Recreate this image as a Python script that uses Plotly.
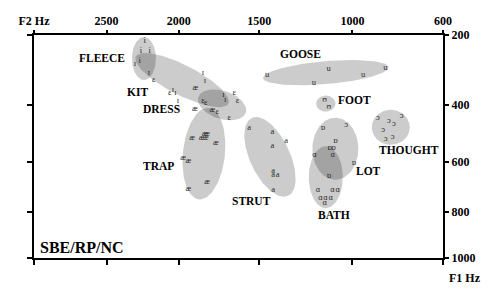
import numpy as np
import plotly.graph_objects as go

# ---------------- data (Hz) ----------------
fleece_f2 = [2230, 2255, 2195, 2265]
fleece_f1 = [215, 241, 241, 269]
kit_f2 = [2298, 2201, 1843, 1830, 2038, 2021, 2005, 1714, 1704]
kit_f1 = [278, 304, 302, 326, 354, 364, 387, 369, 385]
dress_f2 = [2167, 2060, 1843, 1825, 1649, 1629, 1752, 1679]
dress_f1 = [322, 364, 387, 396, 364, 387, 423, 445]
trap_f2 = [1891, 1895, 1783, 1913, 1852, 1833, 1816, 1825, 1762, 1971, 1937, 1816, 1937]
trap_f1 = [348, 415, 419, 514, 512, 500, 500, 512, 532, 587, 597, 677, 707]
strut_f2 = [1559, 1424, 1347, 1424, 1420, 1420, 1394, 1420]
strut_f1 = [479, 491, 524, 542, 634, 649, 651, 709]
goose_f2 = [1454, 1120, 1196, 948, 844]
goose_f1 = [309, 291, 332, 309, 289]
foot_f2 = [1140, 1118]
foot_f1 = [385, 407]
thought_f2 = [879, 829, 772, 806, 855, 843, 812, 1031]
thought_f1 = [445, 453, 437, 465, 485, 518, 510, 468]
lot_f2 = [1149, 1085, 1114, 1095, 993, 1118]
lot_f1 = [479, 523, 548, 548, 604, 653]
bath_f2 = [1193, 1099, 1175, 1100, 1073, 1161, 1135, 1109, 1140]
bath_f1 = [574, 574, 709, 709, 709, 741, 741, 741, 763]

# vowel labels (lexical sets) and their positions (Hz)
label_names = ["FLEECE", "KIT", "DRESS", "TRAP", "STRUT", "GOOSE", "FOOT", "THOUGHT", "LOT", "BATH"]
label_f2 = [2530, 2279, 2116, 2133, 1547, 1268, 988, 738, 923, 1090]
label_f1 = [261, 359, 415, 618, 756, 249, 387, 558, 634, 814]

# ellipse centres (Hz)
ell_f2 = [2235, 1978, 1723, 1837, 1438, 1134, 1134, 820, 1085, 1134]
ell_f1 = [262, 324, 401, 570, 582, 302, 397, 476, 552, 659]

# axis ticks
f2_ticks = [3050, 2500, 2000, 1500, 1000, 600]
f2_tick_text = ["F2 Hz", "2500", "2000", "1500", "1000", "600"]
f1_ticks = [200, 400, 600, 800, 1000]
f1_tick_text = ["200", "400", "600", "800", "1000"]

# ---------------- styling / geometry ----------------
ell_a = [12, 52, 25, 46, 43, 63, 9.7, 19, 31, 31]     # semi-axis (px)
ell_b = [21.5, 15, 14, 21, 20, 11.5, 8, 17.5, 23, 17]
ell_ang = [0, 27, 18, 96, 65, -5, 0, 0, 90, 90]      # degrees, screen

W, H = 500, 301
ML, MR, MT, MB = 34, 57, 35, 43
PW, PH = W - ML - MR, H - MT - MB
SERIF = "Liberation Serif, Times New Roman, serif"


def tx(f):
    return np.power(np.asarray(f, dtype=float), 0.57)


def ty(f):
    return np.power(np.asarray(f, dtype=float), 0.63)


xr = [float(tx(f2_ticks[0])), float(tx(600))]
yr = [float(ty(1000)), float(ty(200))]
kx = PW / abs(xr[0] - xr[1])
ky = PH / abs(yr[0] - yr[1])

fig = go.Figure()

t = np.linspace(0, 2 * np.pi, 120)
for cf2, cf1, a, b, ang in zip(ell_f2, ell_f1, ell_a, ell_b, ell_ang):
    th = np.deg2rad(ang)
    dx = a * np.cos(th) * np.cos(t) - b * np.sin(th) * np.sin(t)
    dy = a * np.sin(th) * np.cos(t) + b * np.cos(th) * np.sin(t)
    xs = float(tx(cf2)) - dx / kx
    ys = float(ty(cf1)) + dy / ky
    fig.add_trace(go.Scatter(x=xs, y=ys, mode="lines", fill="toself",
                             fillcolor="rgba(0,0,0,0.2)", line=dict(width=0),
                             hoverinfo="skip"))

groups = [
    ("i", fleece_f2, fleece_f1), ("ɪ", kit_f2, kit_f1), ("ɛ", dress_f2, dress_f1),
    ("æ", trap_f2, trap_f1), ("a", strut_f2, strut_f1), ("u", goose_f2, goose_f1),
    ("ʊ", foot_f2, foot_f1), ("ɔ", thought_f2, thought_f1), ("ɒ", lot_f2, lot_f1),
    ("ɑ", bath_f2, bath_f1),
]
for sym, f2, f1 in groups:
    fig.add_trace(go.Scatter(x=tx(f2), y=ty(f1), mode="text", text=[sym] * len(f2),
                             textfont=dict(family=SERIF, size=8.5, color="#2a2a2a"),
                             hoverinfo="skip"))

# dummy trace for the secondary axes
fig.add_trace(go.Scatter(x=[tx(1000)], y=[ty(600)], xaxis="x2", yaxis="y2",
                         mode="markers", marker=dict(opacity=0), hoverinfo="skip"))

for name, f2, f1 in zip(label_names, label_f2, label_f1):
    fig.add_annotation(x=float(tx(f2)), y=float(ty(f1)), text=name, showarrow=False,
                       xanchor="center", yanchor="middle",
                       font=dict(family=SERIF, size=11.5, color="black", weight="bold"))

fig.add_annotation(x=0.01, y=0.045, xref="paper", yref="paper", text="SBE/RP/NC",
                   showarrow=False, xanchor="left", yanchor="middle",
                   font=dict(family=SERIF, size=16, color="black", weight="bold"))
fig.add_annotation(x=1.054, y=-0.088, xref="paper", yref="paper", text="F1 Hz",
                   showarrow=False, xanchor="center", yanchor="middle",
                   font=dict(family=SERIF, size=12, color="black", weight="bold"))

tickfont = dict(family=SERIF, size=12, color="black", weight="bold")
common = dict(showgrid=False, zeroline=False, showline=True, linewidth=2,
              linecolor="black", ticks="outside", tickwidth=2, tickcolor="black")

fig.update_layout(
    width=W, height=H, margin=dict(l=ML, r=MR, t=MT, b=MB),
    paper_bgcolor="white", plot_bgcolor="white", showlegend=False,
    hovermode=False,
    xaxis=dict(range=xr, side="top", tickmode="array", tickvals=tx(f2_ticks).tolist(),
               ticktext=f2_tick_text, ticklen=3, tickfont=tickfont, **common),
    xaxis2=dict(range=xr, overlaying="x", side="bottom", tickmode="array",
                tickvals=tx(f2_ticks).tolist(), showticklabels=False, ticklen=5, **common),
    yaxis=dict(range=yr, side="left", tickmode="array", tickvals=ty(f1_ticks).tolist(),
               showticklabels=False, ticklen=5, **common),
    yaxis2=dict(range=yr, overlaying="y", side="right", tickmode="array",
                tickvals=ty(f1_ticks).tolist(), ticktext=f1_tick_text, ticklen=4,
                tickfont=tickfont, **common),
)

fig.write_html("out.html")
